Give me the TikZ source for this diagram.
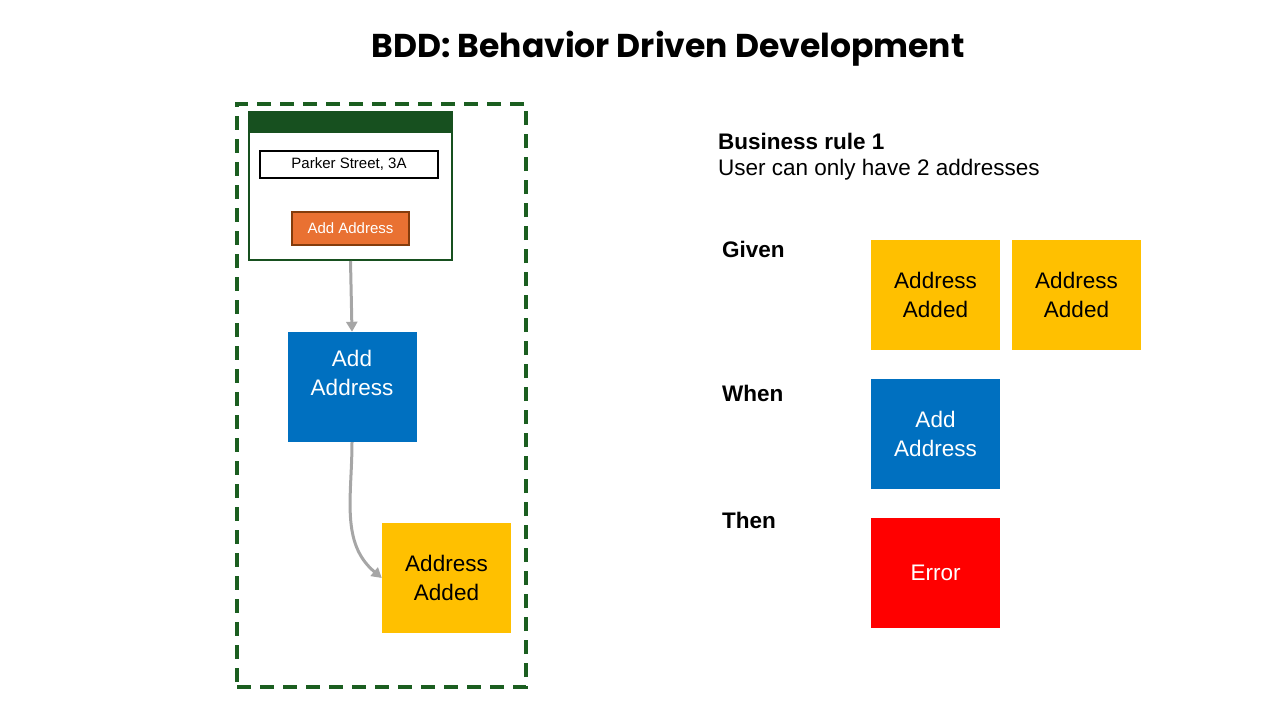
\documentclass[tikz,border=0pt]{standalone}
\usepackage{fontspec}
\setmainfont{Liberation Sans}
\newfontfamily\titlefont{Poppins}
\usepackage{tikz}
\usetikzlibrary{arrows.meta}
\definecolor{lanegreen}{HTML}{1B5E20}
\definecolor{bargreen}{HTML}{17501F}
\definecolor{cmdblue}{HTML}{0070C0}
\definecolor{evtyellow}{HTML}{FFC000}
\definecolor{btnorange}{HTML}{E97132}
\definecolor{btnbrown}{HTML}{843C0C}
\definecolor{flowgray}{HTML}{A6A6A6}
\tikzstyle{sticky}=[rectangle, inner sep=0pt, minimum width=129, minimum height=110, align=center, font=\fontsize{22.5}{29}\selectfont]
\tikzstyle{event}=[sticky, fill=evtyellow, text=black]
\tikzstyle{command}=[sticky, fill=cmdblue, text=white]
\tikzstyle{failure}=[sticky, fill=red, text=white]
\tikzstyle{flow}=[draw=flowgray, line width=3, -{Triangle[length=10, width=11]}]
\tikzstyle{keyword}=[anchor=west, inner sep=0pt, font=\fontsize{22.5}{26}\selectfont\bfseries]

\begin{document}
\begin{tikzpicture}[x=1pt, y=-1pt]
                \useasboundingbox (0,0) rectangle (1280,720);
                \node (title) at (668, 49) {\titlefont\bfseries\fontsize{33}{38}\selectfont BDD: Behavior Driven Development};
                % left: the screen and what it triggers
                \node[draw=lanegreen, line width=3.5, dash pattern=on 14 off 9, minimum width=289, minimum height=583] (lane) at (381.5, 395.5) {};
                \node[draw=bargreen, line width=2, minimum width=203, minimum height=148] (win) at (350.5, 186) {};
                \node[fill=bargreen, minimum width=203, minimum height=21, inner sep=0pt] (winbar) at (350.5, 122.5) {};
                \node[draw=black, line width=2, minimum width=178, minimum height=27, inner sep=0pt, font=\fontsize{15}{17}\selectfont] (street) at (349, 164.5) {Parker Street, 3A};
                \node[draw=btnbrown, fill=btnorange, line width=2, text=white, minimum width=117, minimum height=33, inner sep=0pt, font=\fontsize{15}{17}\selectfont] (btn) at (350.5, 228.5) {Add Address};
                \node[command, text depth=29] (cmd) at (352, 387) {Add\\Address};
                \node[event] (evt) at (446.5, 578) {Address\\Added};
                \draw[flow] (win.south) -- (cmd.north);
                \draw[flow] (cmd.south) to[out=-90, in=140] (evt.west);
                % right: the rule
                \node[keyword] (rule) at (718, 141) {Business rule 1};
                \node[keyword, font=\fontsize{22.5}{26}\selectfont] (ruletext) at (718, 170) {User can only have 2 addresses};
                \node[keyword] (given) at (722, 249) {Given};
                \node[keyword] (when) at (722, 393) {When};
                \node[keyword] (then) at (722, 520) {Then};
                \node[event] (given1) at (935.5, 295) {Address\\Added};
                \node[event] (given2) at (1076.5, 295) {Address\\Added};
                \node[command] (whencmd) at (935.5, 434) {Add\\Address};
                \node[failure] (thenerr) at (935.5, 573) {Error};
            \end{tikzpicture}
\end{document}
